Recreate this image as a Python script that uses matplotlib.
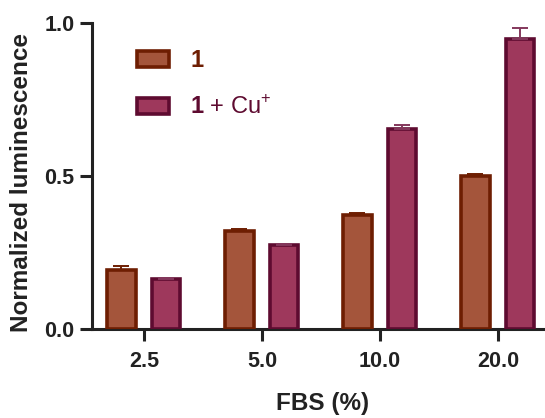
import numpy as np
import matplotlib.pyplot as plt
from matplotlib import rcParams

rcParams["font.family"] = ["Liberation Sans", "DejaVu Sans"]
rcParams["mathtext.fontset"] = "custom"
rcParams["mathtext.rm"] = "Liberation Sans"
rcParams["mathtext.bf"] = "Liberation Sans:bold"

categories = ["2.5", "5.0", "10.0", "20.0"]
probe = [0.193, 0.320, 0.373, 0.500]
probe_err = [0.013, 0.006, 0.006, 0.006]
probe_cu = [0.163, 0.275, 0.654, 0.948]
probe_cu_err = [0.005, 0.004, 0.012, 0.035]

C1_FACE, C1_EDGE = "#A4553B", "#6E1E02"
C2_FACE, C2_EDGE = "#9E385C", "#5E0B30"
INK = "#222222"

fig = plt.figure(figsize=(5.45, 4.18), dpi=100)
ax = fig.add_axes([92 / 545, 89 / 418, 1 - 92 / 545, 306 / 418])

x = np.arange(len(categories))
w = 0.24
off = 0.19
n = len(categories)

ax.bar(x - off, probe, w, color=C1_FACE, edgecolor=C1_EDGE, linewidth=2.6,
       yerr=[[0] * n, probe_err], ecolor=C1_EDGE,
       error_kw=dict(capsize=5.5, elinewidth=1.4, capthick=1.4),
       label=r"$\mathbf{1}$", zorder=3)
ax.bar(x + off, probe_cu, w, color=C2_FACE, edgecolor=C2_EDGE, linewidth=2.6,
       yerr=[[0] * n, probe_cu_err], ecolor="#84385C",
       error_kw=dict(capsize=5.5, elinewidth=1.4, capthick=1.4),
       label=r"$\mathbf{1}$ + Cu$^{+}$", zorder=3)

ax.set_xlim(-0.44, 3.40)
ax.set_ylim(0, 1.0)
ax.set_xticks(x)
ax.set_xticklabels(categories)
ax.set_yticks([0.0, 0.5, 1.0])
ax.set_yticklabels(["0.0", "0.5", "1.0"])

for s in ["top", "right"]:
    ax.spines[s].set_visible(False)
for s in ["left", "bottom"]:
    ax.spines[s].set_linewidth(2.2)
    ax.spines[s].set_color(INK)

ax.tick_params(axis="both", length=8.5, width=2.2, labelsize=15.5, color=INK,
               labelcolor=INK)
ax.tick_params(axis="y", pad=4)
ax.tick_params(axis="x", pad=7)
for lab in ax.get_xticklabels() + ax.get_yticklabels():
    lab.set_fontweight("bold")

ax.set_xlabel("FBS (%)", fontsize=17.5, fontweight="bold", color=INK, va="top")
ax.xaxis.set_label_coords(0.508, -0.205)
ax.set_ylabel("Normalized luminescence", fontsize=17.5, fontweight="bold", color=INK)
ax.yaxis.set_label_coords(-0.13, 0.48)

leg = ax.legend(loc="upper left", bbox_to_anchor=(0.073, 0.95), frameon=False,
                fontsize=17, handlelength=1.35, handleheight=0.68,
                labelspacing=1.0, handletextpad=0.9, borderpad=0)
for txt, col in zip(leg.get_texts(), [C1_EDGE, C2_EDGE]):
    txt.set_color(col)

fig.savefig("out.png", dpi=100)
